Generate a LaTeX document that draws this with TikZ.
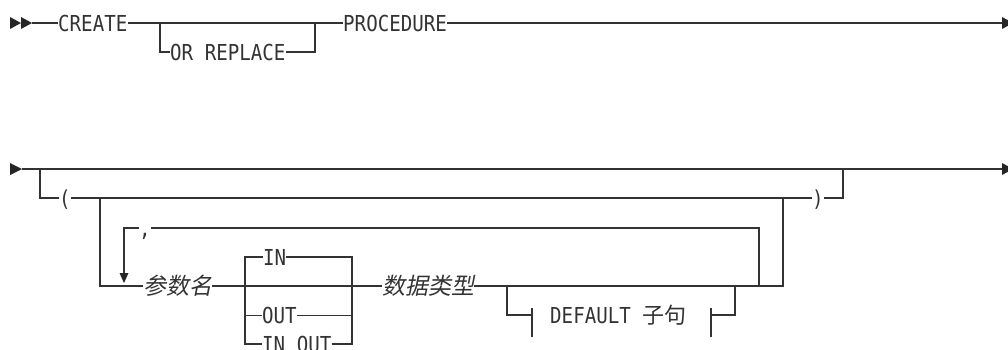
\documentclass[tikz,border=0pt]{standalone}
\usepackage{fontspec}
\setmainfont[FakeStretch=0.87]{DejaVu Sans Mono}
\newfontfamily\cjk{Noto Sans CJK SC}
\newfontfamily\cjkit[FakeSlant=0.2]{Noto Sans CJK SC}

\tikzset{
  kw/.style={inner sep=0pt, anchor=west, text height=16pt, text depth=0pt, text=black!80, font=\fontsize{22}{22}\selectfont},
  var/.style={kw, font=\cjkit\fontsize{23}{23}\selectfont},
  rail/.style={line width=1.3pt, draw=black!80},
  tip/.style={fill=black!85}
}

\begin{document}
\begin{tikzpicture}[x=1pt,y=-1pt]
\useasboundingbox (0,0) rectangle (1008,349);

% first line
\node[kw] (create) at (58,23) {CREATE};
\node[kw] (orrep) at (170,52) {OR REPLACE};
\node[kw] (proc) at (343,23) {PROCEDURE};

\coordinate (start1) at (32,23);
\coordinate (a1) at (160,23);
\coordinate (a2) at (315,23);
\coordinate (end1) at (1002,23);

\fill[tip] (10,17) -- (21,23) -- (10,29) -- cycle;
\fill[tip] (21,17) -- (32,23) -- (21,29) -- cycle;
\draw[rail] (start1) -- (create.west);
\draw[rail] (create.east) -- (proc.west);
\draw[rail] (a1) |- (orrep.west);
\draw[rail] (orrep.east) -| (a2);
\draw[rail] (proc.east) -- (end1);
\fill[tip] (1002,17) -- (1013,23) -- (1002,29) -- cycle;

% second line
\node[kw] (lpar) at (59,198) {(};
\node[kw] (rpar) at (812,198) {)};
\node[kw] (comma) at (139,228) {,};
\node[var] (pname) at (143,286) {参数名};
\node[kw] (in) at (263,257) {IN};
\node[kw] (out) at (262,315.5) {OUT};
\node[kw] (inout) at (262,344) {IN OUT};
\node[var] (dtype) at (382,286) {数据类型};
\node[kw] (dflt) at (550,315) {DEFAULT {\cjk 子句}};

\coordinate (start2) at (22,169);
\coordinate (end2) at (1002,169);
\coordinate (b1) at (40,169);
\coordinate (b2) at (843,169);
\coordinate (c1) at (100,198);
\coordinate (c2) at (783,198);
\coordinate (dn) at (124,273);
\coordinate (l3) at (759,286);
\coordinate (m1) at (245,286);
\coordinate (m2) at (352,286);
\coordinate (d1) at (507,286);
\coordinate (d2) at (735,286);
\coordinate (t1) at (532,315);
\coordinate (t2) at (711,315);

\fill[tip] (10,163) -- (22,169) -- (10,175) -- cycle;
\draw[rail] (start2) -- (end2);
\fill[tip] (1002,163) -- (1013,169) -- (1002,175) -- cycle;

\draw[rail] (b1) |- (lpar.west);
\draw[rail] (lpar.east) -- (rpar.west);
\draw[rail] (rpar.east) -| (b2);

\draw[rail] (c1) |- (pname.west);
\draw[rail] (l3) |- (comma.east);
\draw[rail] (comma.west) -| (dn);
\fill[tip] (119.5,273) -- (128.5,273) -- (124,283) -- cycle;

\draw[rail] (pname.east) -- (dtype.west);
\draw[rail] (m1) |- (in.west);
\draw[rail] (in.east) -| (m2);
\draw[rail] (m1) |- (out.west);
\draw[rail] (out.east) -| (m2);
\draw[rail] (m1) |- (inout.west);
\draw[rail] (inout.east) -| (m2);
\draw[rail] (dtype.east) -| (c2);

\draw[rail] (d1) |- (t1);
\draw[rail] (t1) ++(0,-7) -- ++(0,29);
\draw[rail] (t2) ++(0,-7) -- ++(0,29);
\draw[rail] (t2) -| (d2);
\end{tikzpicture}
\end{document}
